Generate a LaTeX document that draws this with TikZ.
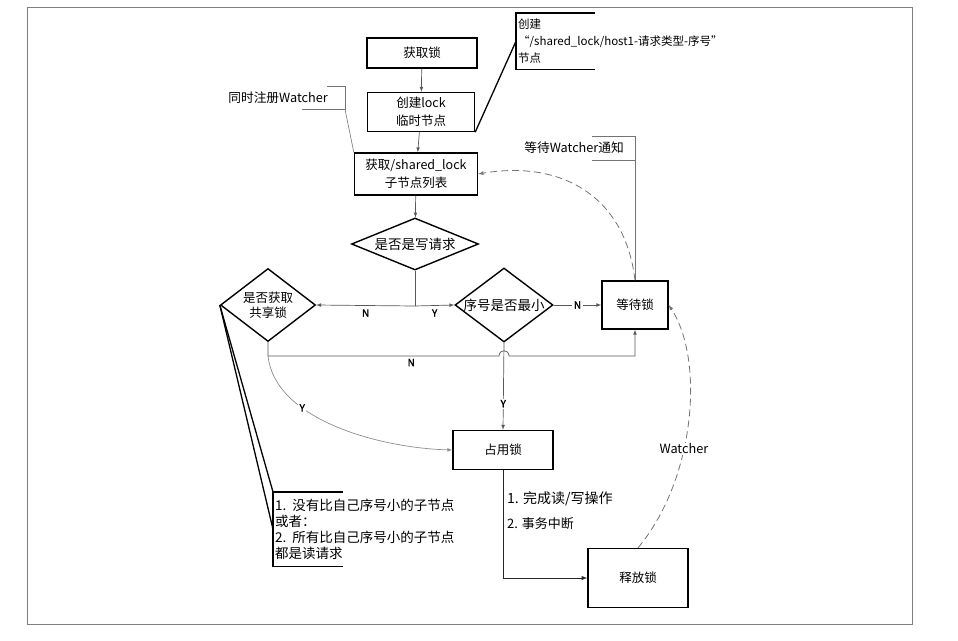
\documentclass[tikz,border=0pt]{standalone}
\usepackage{fontspec}
\setmainfont{Noto Sans CJK SC}[AutoFakeBold=2]
\usepackage{tikz}
\usetikzlibrary{arrows,shapes}

\begin{document}
\begin{tikzpicture}
[x=1pt,y=-1pt,>=latex]
\tikzset{
	procbox/.style = {draw, line width=1.4pt, inner sep=2, align=center, font=\fontsize{12.5}{18}\selectfont},
	testbox/.style = {diamond, draw, line width=1.4pt, inner sep=0, align=center, font=\fontsize{12.5}{15}\selectfont},
	flow/.style = {draw=black!65, line width=0.7pt, ->},
	yn/.style = {font=\fontsize{10}{12}\selectfont\bfseries, fill=white, inner sep=1.5},
	note/.style = {align=left, inner sep=2, font=\fontsize{12.7}{17}\selectfont},
	callout/.style = {draw=black, line width=1.3pt},
	thin callout/.style = {draw=black!55, line width=0.6pt},
	watch/.style = {draw=black!55, dash pattern=on 7pt off 4pt, line width=0.8pt, ->}
}
\useasboundingbox (0,0) rectangle (958,640);
\draw [black!50, line width=1pt] (27,7) rectangle (912,624);

% main flow
\node (get) [procbox, minimum width=110, minimum height=30] at (422,53) {获取锁};
\node (create) [procbox, minimum width=107, minimum height=39] at (421,112) {创建lock\\临时节点};
\node (list) [procbox, minimum width=123, minimum height=42] at (416,174) {获取/shared\_lock\\子节点列表};
\node (iswrite) [testbox, aspect=2.44, minimum width=127, minimum height=52, font=\fontsize{13.5}{15}\selectfont] at (415,244) {是否是写请求};
\node (isshare) [testbox, aspect=1.3, minimum width=95, minimum height=73] at (268,305) {是否获取\\共享锁};
\node (ismin) [testbox, aspect=1.32, minimum width=98, minimum height=74, font=\fontsize{13.5}{15}\selectfont] at (504,305) {序号是否最小};
\node (wait) [procbox, minimum width=66, minimum height=48] at (635,305) {等待锁};
\node (hold) [procbox, minimum width=100, minimum height=39] at (503,450) {占用锁};
\node (release) [procbox, minimum width=100, minimum height=59] at (638,578) {释放锁};

\coordinate (split) at (415,306);
\coordinate (turn) at (268,356);

\draw [flow] (get) -- (create);
\draw [flow] (create) -- (list);
\draw [flow] (list) -- (iswrite);
\draw [draw=black!65, line width=0.7pt] (iswrite.south) -- (split);
\draw [flow] (split) -- node [yn, below=2pt] {N} (isshare.east);
\draw [flow] (split) -- node [yn, below=2pt] {Y} (ismin.west);
\draw [flow] (ismin) -- node [yn] {N} (wait);
\draw [flow] (isshare.south) -- (turn) -- node [yn, below=1pt, pos=0.62] {N} (499,356)
	.. controls (499,349) and (509,349) .. (509,356) -- (635,356) -- (wait.south);
\draw [flow] (ismin.south) -- node [yn, pos=0.7] {Y} (hold.north);
\draw [flow, draw=black!45] (turn) .. controls (275,420) and (380,448) .. node [yn, pos=0.33] {Y} (hold.west);
\draw [flow, draw=black!85, line width=1pt] (hold.south) |- (release.west);
\node (done1) [note, anchor=west, font=\fontsize{14}{17}\selectfont] at (505,499) {1. 完成读/写操作};
\node (done2) [note, anchor=west, font=\fontsize{13}{17}\selectfont] at (505,524) {2. 事务中断};

% watcher notifications
\draw [watch] (wait.north) .. controls (625,195) and (560,160) .. (list.east);
\draw [watch] (release.north) .. controls (695,480) and (705,360) .. node [pos=0.4, fill=white, inner sep=1, font=\fontsize{12.7}{13}\selectfont] {Watcher} (wait.east);

% notes
\node (hostnote) [note, anchor=north west, minimum height=56, font=\fontsize{11.5}{17}\selectfont] at (516,13) {创建\\“/shared\_lock/host1-请求类型-序号”\\节点};
\draw [callout] ([xshift=79]hostnote.north west) -- (hostnote.north west) -- (hostnote.south west) -- ([xshift=79]hostnote.south west);
\draw [callout] (create.south east) -- (hostnote.west);

\node (regnote) [note, anchor=east, inner sep=0, minimum height=23] at (328,97.5) {同时注册Watcher};
\draw [thin callout] ([xshift=-1]regnote.north east) -- ++(18,0) -- ++(0,23) -- ++(-43,0);
\draw [thin callout] ([xshift=17]regnote.south east) -- (list.north west);

\node (waitnote) [note, anchor=east, inner sep=0, minimum height=24] at (624,148) {等待Watcher通知};
\draw [thin callout] ([xshift=-32]waitnote.north east) -| (wait.north);
\draw [thin callout] ([xshift=-32]waitnote.south east) -- ([xshift=11]waitnote.south east);

\node (cond) [note, anchor=north west, minimum height=74, font=\fontsize{13.5}{16}\selectfont] at (273,492) {1.~~没有比自己序号小的子节点\\或者：\\2.~~所有比自己序号小的子节点\\都是读请求};
\draw [callout] ([xshift=70]cond.north west) -- (cond.north west) -- (cond.south west) -- ([xshift=70]cond.south west);
\draw [callout] (isshare.west) -- (cond.north west);
\draw [callout] (isshare.west) -- (cond.west);

\end{tikzpicture}
\end{document}
